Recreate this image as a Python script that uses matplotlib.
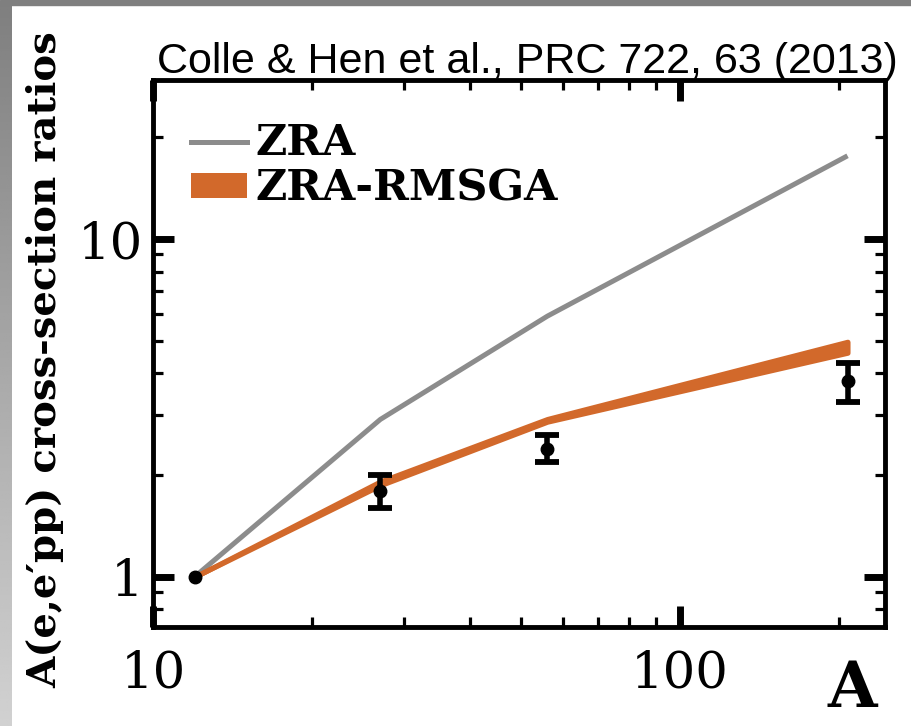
import numpy as np
import matplotlib
matplotlib.use("Agg")
import matplotlib.pyplot as plt
from matplotlib.ticker import LogLocator, NullFormatter
from matplotlib.lines import Line2D
from matplotlib.patches import Patch, Rectangle

# ---------------- data ----------------
A_theory = [12, 27, 56, 208]
zra = [1.0, 2.92, 5.9, 17.6]
rmsga_lo = [1.0, 1.865, 2.875, 4.60]
rmsga_hi = [1.0, 1.915, 2.93, 4.96]

A_data = [12, 27, 56, 208]
ratio = [1.0, 1.79, 2.38, 3.79]
ratio_low = [1.0, 1.60, 2.19, 3.28]
ratio_high = [1.0, 2.00, 2.62, 4.29]

xtick_vals = [10, 100]
xtick_labels = ["10", "100"]
ytick_vals = [1, 10]
ytick_labels = ["1", "10"]

title = "Colle & Hen et al., PRC 722, 63 (2013)"
ylabel = "A(e,e\u2032pp) cross-section ratios"
xlabel = "A"
legend_labels = ["ZRA", "ZRA-RMSGA"]

GRAY = "#8c8c8c"
ORANGE = "#d2692b"

# ---------------- figure ----------------
W, H = 912, 726
fig = plt.figure(figsize=(W / 100, H / 100), dpi=100)
ax = fig.add_axes([153 / W, (H - 627) / H, (885 - 153) / W, (627 - 80) / H])

ax.set_xscale("log")
ax.set_yscale("log")
ax.set_xlim(10, 245)
ax.set_ylim(0.71, 29.5)

ax.plot(A_theory, zra, color=GRAY, lw=3.6, solid_capstyle="butt", zorder=2)
ax.fill_between(A_theory, rmsga_lo, rmsga_hi, facecolor=ORANGE,
                edgecolor=ORANGE, lw=3.6, zorder=3)

r = np.array(ratio)
elo = r - np.array(ratio_low)
ehi = np.array(ratio_high) - r
ax.plot(A_data[:1], ratio[:1], "o", color="black", ms=9, zorder=5)
ax.errorbar(A_data[1:], ratio[1:], yerr=[elo[1:], ehi[1:]], fmt="o",
            color="black", ms=9, elinewidth=4, capsize=8.5, capthick=4.2,
            zorder=5)

# ticks
ax.set_xticks(xtick_vals, xtick_labels)
ax.set_yticks(ytick_vals, ytick_labels)
ax.xaxis.set_minor_locator(LogLocator(base=10, subs=np.arange(2, 10)))
ax.yaxis.set_minor_locator(LogLocator(base=10, subs=np.arange(2, 10)))
ax.xaxis.set_minor_formatter(NullFormatter())
ax.yaxis.set_minor_formatter(NullFormatter())
ax.tick_params(which="major", direction="in", length=15, width=5,
               top=True, right=True, labelsize=37, colors="black")
ax.tick_params(which="minor", direction="in", length=7.5, width=2.3,
               top=True, right=True)
ax.tick_params(axis="x", which="major", pad=16)
ax.tick_params(axis="y", which="major", pad=7)
for lab in ax.get_xticklabels() + ax.get_yticklabels():
    lab.set_family("DejaVu Serif")
for s in ax.spines.values():
    s.set_linewidth(3.5)

# legend
handles = [Line2D([], [], color=GRAY, lw=3.6),
           Patch(facecolor=ORANGE, edgecolor="none")]
leg = ax.legend(handles, legend_labels, loc="upper left",
                bbox_to_anchor=(0.022, 0.962), frameon=False,
                prop={"family": "DejaVu Serif", "weight": "bold", "size": 31},
                handlelength=1.3, handleheight=0.5, handletextpad=0.2,
                labelspacing=0.08, borderpad=0.0)

# texts
fig.text(157 / W, (H - 73) / H, title, ha="left", va="baseline",
         family=["Liberation Sans Narrow", "Liberation Sans"], fontsize=31)
fig.text(45 / W, (H - 360) / H, ylabel, rotation=90, ha="center",
         va="center", family="DejaVu Serif", weight="bold", fontsize=29)
fig.text(852 / W, (H - 707) / H, xlabel, ha="center", va="baseline",
         family="DejaVu Serif", weight="bold", fontsize=46)

# frame decoration (gray border top and left)
fig.patches.append(Rectangle((0, (H - 5) / H), 1, 5 / H,
                             transform=fig.transFigure, color="#7f7f7f",
                             zorder=10))
gax = fig.add_axes([0, 0, 12 / W, (H - 5) / H])
grad = np.linspace(0.5, 0.82, 256).reshape(-1, 1)
gax.imshow(grad, aspect="auto", cmap="gray", vmin=0, vmax=1,
           extent=[0, 1, 0, 1], origin="upper")
gax.set_axis_off()

fig.savefig("out.png", dpi=100)
